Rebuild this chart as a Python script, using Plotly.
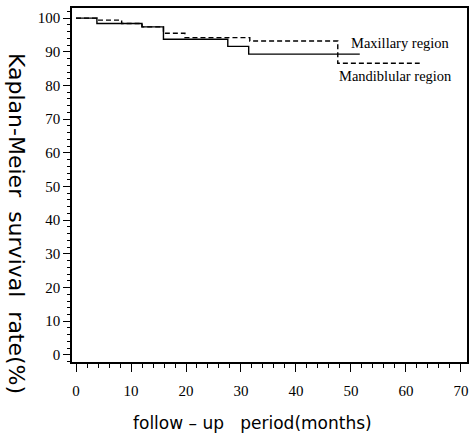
import plotly.graph_objects as go

# Maxillary region (solid)
max_t = [0, 3.8, 12.0, 15.9, 27.6, 31.4, 51.6]
max_s = [100, 98.4, 97.4, 93.7, 91.6, 89.3, 89.3]
# Mandiblular region (dashed)
man_t = [0, 3.8, 8.3, 12.0, 15.9, 19.8, 31.6, 47.6, 62.5]
man_s = [100, 99.4, 98.4, 97.4, 95.5, 94.2, 93.2, 86.6, 86.6]

x_ticks = [0, 10, 20, 30, 40, 50, 60, 70]
y_ticks = [0, 10, 20, 30, 40, 50, 60, 70, 80, 90, 100]

fig = go.Figure()
fig.add_trace(go.Scatter(x=max_t, y=max_s, mode="lines", line_shape="hv",
                         line=dict(color="black", width=1.4), name="Maxillary region"))
fig.add_trace(go.Scatter(x=man_t, y=man_s, mode="lines", line_shape="hv",
                         line=dict(color="black", width=1.4, dash="5px,3px"), name="Mandiblular region"))

tickfont = dict(family="Liberation Serif", size=15, color="black")
fig.update_xaxes(range=[-0.73, 71.1], tickvals=x_ticks, ticktext=[str(v) for v in x_ticks],
                 ticks="outside", ticklen=8, tickwidth=1.3, tickcolor="black",
                 minor=dict(dtick=2, ticks="outside", ticklen=4, tickwidth=1, tickcolor="black"),
                 showline=True, linecolor="black", linewidth=1.5, mirror=True,
                 showgrid=False, zeroline=False, tickfont=tickfont, automargin=False,
                 ticklabelstandoff=6)
fig.update_yaxes(range=[-2.1, 103], tickvals=y_ticks, ticktext=[str(v) for v in y_ticks],
                 ticks="outside", ticklen=7, tickwidth=1.3, tickcolor="black",
                 minor=dict(dtick=2, ticks="outside", ticklen=3, tickwidth=1, tickcolor="black"),
                 showline=True, linecolor="black", linewidth=1.5, mirror=True,
                 showgrid=False, zeroline=False, tickfont=tickfont, automargin=False)

# page-pixel placement helper relative to plot area
L, R, T, B = 72, 3, 8, 74
pw, ph = 470 - L - R, 436 - T - B

def ann(text, px, py, font, xanchor="left", textangle=0):
    fig.add_annotation(text=text, x=(px - L) / pw, y=1 - (py - T) / ph,
                       xref="paper", yref="paper", xanchor=xanchor, yanchor="middle",
                       showarrow=False, font=font, textangle=textangle)

lab_font = dict(family="Liberation Serif", size=14.5, color="black")
ann("Maxillary region", 349, 43, lab_font)
ann("Mandiblular region", 337, 76, lab_font)
ann("Kaplan-Meier  survival  rate(%)", 17, 223,
    dict(family="DejaVu Sans", size=22, color="black"), xanchor="center", textangle=90)
ann("follow – up   period(months)", 252, 423,
    dict(family="DejaVu Sans", size=17, color="black"), xanchor="center")

fig.update_layout(width=470, height=436, margin=dict(l=L, r=R, t=T, b=B, autoexpand=False),
                  paper_bgcolor="white", plot_bgcolor="white", showlegend=False)
fig.write_html("out.html", config={"displayModeBar": False},
               post_script="document.body.style.margin='0';document.body.style.padding='0';")
